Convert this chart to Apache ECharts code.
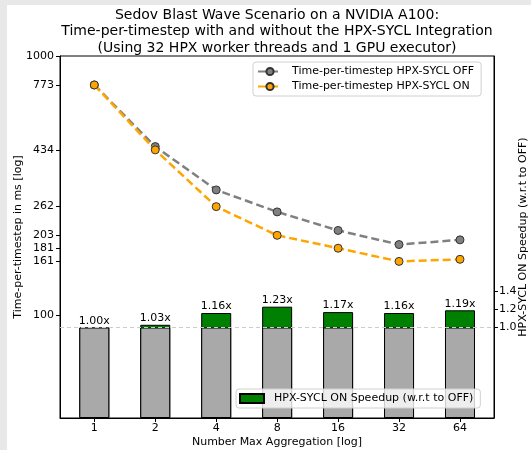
<!DOCTYPE html>
<html>
<head>
<meta charset="utf-8">
<script src="https://cdn.jsdelivr.net/npm/echarts@6/dist/echarts.min.js"></script>
<style>
  html, body { margin: 0; padding: 0; background: #fff; }
  #chart { width: 531px; height: 450px; }
</style>
</head>
<body>
<div id="chart"></div>
<script>
// Max aggregation levels (x axis, log base 2)
const aggregation = [1, 2, 4, 8, 16, 32, 64];
// Time-per-timestep in ms
const timeOff = [773, 447, 304, 250, 212, 187, 195];
const timeOn = [773, 434, 262, 203, 181, 161, 164];
// Speedup of HPX-SYCL ON relative to OFF
const speedup = [1.00, 1.03, 1.16, 1.23, 1.17, 1.16, 1.19];
// Baseline for the speedup bars
const baseline = [1, 1, 1, 1, 1, 1, 1];
// Tick labels
const timeTicks = [100, 161, 181, 203, 262, 434, 773, 1000];
const speedupTicks = [1.0, 1.2, 1.4];

const FONT = 'DejaVu Sans';
const pairs = (xs, ys) => xs.map((x, i) => [x, ys[i]]);

const chart = echarts.init(document.getElementById('chart'), null, { renderer: 'canvas' });

chart.setOption({
  animation: false,
  backgroundColor: '#fff',
  textStyle: { fontFamily: FONT },
  graphic: [
    { type: 'rect', left: 0, top: 0, shape: { width: 7, height: 450 }, style: { fill: '#e8e8e8' }, silent: true },
    { type: 'rect', left: 0, top: 0, shape: { width: 531, height: 5 }, style: { fill: '#e8e8e8' }, silent: true }
  ],
  title: {
    text: 'Sedov Blast Wave Scenario on a NVIDIA A100:\nTime-per-timestep with and without the HPX-SYCL Integration\n(Using 32 HPX worker threads and 1 GPU executor)',
    left: 277,
    top: 7,
    textAlign: 'center',
    padding: 0,
    textStyle: { fontFamily: FONT, fontSize: 14, fontWeight: 'normal', color: '#000', lineHeight: 16.5 }
  },
  grid: {
    left: 60, right: 37, top: 56, bottom: 32,
    outerBoundsMode: 'none',
    containLabel: false,
    show: true, borderColor: '#000', borderWidth: 1, backgroundColor: 'transparent'
  },
  legend: [
    {
      data: ['Time-per-timestep HPX-SYCL OFF', 'Time-per-timestep HPX-SYCL ON'],
      orient: 'vertical',
      left: 253, top: 62,
      padding: [4, 7, 4, 4],
      itemGap: 4,
      itemWidth: 24, itemHeight: 9,
      backgroundColor: 'rgba(255,255,255,0.8)',
      borderColor: '#d0d0d0', borderWidth: 1, borderRadius: 3,
      textStyle: { fontFamily: FONT, fontSize: 11, color: '#000', padding: [0, 0, 0, 5] }
    },
    {
      data: [{ name: 'HPX-SYCL ON Speedup (w.r.t to OFF)', icon: 'rect' }],
      left: 236, top: 389,
      padding: [4, 7, 4, 3],
      itemWidth: 24, itemHeight: 9,
      backgroundColor: 'rgba(255,255,255,0.8)',
      borderColor: '#d0d0d0', borderWidth: 1, borderRadius: 3,
      textStyle: { fontFamily: FONT, fontSize: 11, color: '#000', padding: [0, 0, 0, 5] }
    }
  ],
  xAxis: {
    type: 'log',
    logBase: 2,
    min: Math.pow(2, -0.563),
    max: Math.pow(2, 6.558),
    name: 'Number Max Aggregation [log]',
    nameLocation: 'middle',
    nameGap: 19,
    nameMoveOverlap: false,
    nameTextStyle: { fontFamily: FONT, fontSize: 11, color: '#000' },
    axisLine: { show: true, lineStyle: { color: '#000', width: 1 } },
    axisTick: { show: true, length: 4, customValues: aggregation, lineStyle: { color: '#000' } },
    axisLabel: {
      customValues: aggregation, margin: 5,
      fontFamily: FONT, fontSize: 11, color: '#000',
      formatter: v => String(Math.round(v))
    },
    minorTick: { show: false },
    splitLine: { show: false }
  },
  yAxis: [
    {
      type: 'log',
      min: 40, max: 1000,
      position: 'left',
      name: 'Time-per-timestep in ms [log]',
      nameLocation: 'middle',
      nameGap: 36,
      nameRotate: 90,
      nameMoveOverlap: false,
      nameTextStyle: { fontFamily: FONT, fontSize: 11, color: '#000' },
      axisLine: { show: true, lineStyle: { color: '#000', width: 1 } },
      axisTick: { show: true, length: 4, customValues: timeTicks, lineStyle: { color: '#000' } },
      axisLabel: {
        customValues: timeTicks, margin: 6,
        fontFamily: FONT, fontSize: 11, color: '#000',
        formatter: v => String(Math.round(v))
      },
      minorTick: { show: false },
      splitLine: { show: false }
    },
    {
      type: 'value',
      min: 0, max: 4,
      position: 'right',
      name: 'HPX-SYCL ON Speedup (w.r.t to OFF)',
      nameLocation: 'middle',
      nameGap: 24,
      nameRotate: 90,
      nameMoveOverlap: false,
      nameTextStyle: { fontFamily: FONT, fontSize: 11, color: '#000' },
      axisLine: { show: true, lineStyle: { color: '#000', width: 1 } },
      axisTick: { show: true, length: 4, customValues: speedupTicks, lineStyle: { color: '#000' } },
      axisLabel: {
        customValues: speedupTicks, margin: 5,
        fontFamily: FONT, fontSize: 11, color: '#000',
        formatter: v => v.toFixed(1)
      },
      splitLine: { show: false }
    }
  ],
  series: [
    {
      name: 'HPX-SYCL ON Speedup (w.r.t to OFF)',
      type: 'bar',
      yAxisIndex: 1,
      data: pairs(aggregation, speedup),
      barWidth: 30,
      barGap: '-100%',
      itemStyle: { color: '#008000', borderColor: '#000', borderWidth: 1 },
      label: {
        show: true, position: 'top', distance: 1,
        fontFamily: FONT, fontSize: 11, color: '#000',
        formatter: p => p.value[1].toFixed(2) + 'x'
      },
      markLine: {
        silent: true, symbol: 'none',
        label: { show: false },
        lineStyle: { color: '#cccccc', type: [4, 3], width: 1 },
        data: [{ yAxis: 1 }]
      },
      z: 2
    },
    {
      name: 'baseline',
      type: 'bar',
      yAxisIndex: 1,
      data: pairs(aggregation, baseline),
      barWidth: 30,
      barGap: '-100%',
      itemStyle: { color: '#a9a9a9', borderColor: '#000', borderWidth: 1 },
      z: 3
    },
    {
      name: 'Time-per-timestep HPX-SYCL OFF',
      type: 'line',
      yAxisIndex: 0,
      data: pairs(aggregation, timeOff),
      symbol: 'circle', symbolSize: 8,
      lineStyle: { color: '#808080', width: 2.5, type: [8, 4] },
      itemStyle: { color: '#808080', borderColor: '#333', borderWidth: 1 },
      z: 4
    },
    {
      name: 'Time-per-timestep HPX-SYCL ON',
      type: 'line',
      yAxisIndex: 0,
      data: pairs(aggregation, timeOn),
      symbol: 'circle', symbolSize: 8,
      lineStyle: { color: '#ffa500', width: 2.5, type: [8, 4] },
      itemStyle: { color: '#ffa500', borderColor: '#333', borderWidth: 1 },
      z: 5
    }
  ]
});
</script>
</body>
</html>
